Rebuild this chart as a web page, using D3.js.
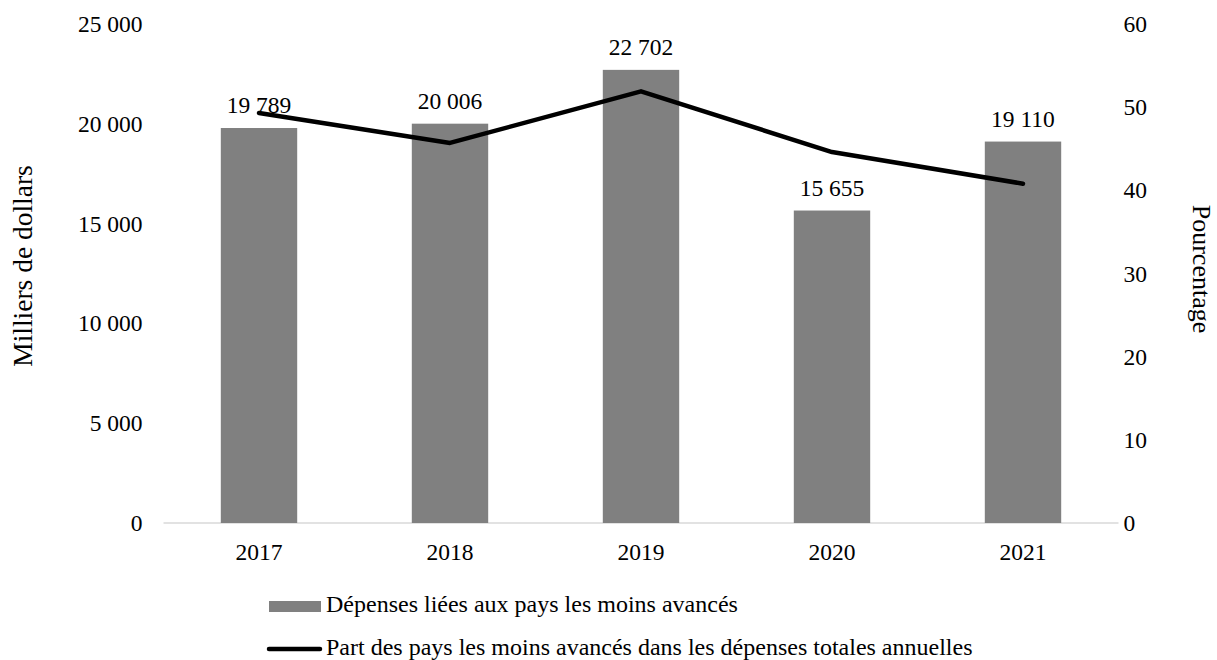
<!DOCTYPE html>
<html>
<head>
<meta charset="utf-8">
<script src="https://cdn.jsdelivr.net/npm/d3@7"></script>
<style>
  html, body { margin: 0; padding: 0; background: #fff; }
  svg text { font-family: "Liberation Serif", "Times New Roman", serif; fill: #000; }
</style>
</head>
<body>
<svg id="chart" width="1217" height="660"></svg>
<script>
// Years on the category axis
const years = ["2017", "2018", "2019", "2020", "2021"];
// Spending on least developed countries (thousands of dollars)
const depenses = [19789, 20006, 22702, 15655, 19110];
// Share of least developed countries in total annual spending (%)
const part = [49.3, 45.7, 51.9, 44.6, 40.8];
// Tick values for both value axes
const leftTicks = [0, 5000, 10000, 15000, 20000, 25000];
const rightTicks = [0, 10, 20, 30, 40, 50, 60];
// Legend entries
const legendLabels = [
  "Dépenses liées aux pays les moins avancés",
  "Part des pays les moins avancés dans les dépenses totales annuelles"
];

const svg = d3.select("#chart");
const margin = { left: 163.5, right: 1118.5, top: 24, bottom: 523 };
const fontSize = 23.5;

// French-style thousands separator (space)
const fmt = v => d3.format(",")(v).replace(/,/g, " ");

const x = d3.scaleBand()
  .domain(years)
  .range([margin.left, margin.right])
  .paddingInner(0.6)
  .paddingOuter(0.3);

const yLeft = d3.scaleLinear().domain([0, 25000]).range([margin.bottom, margin.top]);
const yRight = d3.scaleLinear().domain([0, 60]).range([margin.bottom, margin.top]);

// Baseline
svg.append("line")
  .attr("x1", margin.left).attr("x2", margin.right)
  .attr("y1", margin.bottom).attr("y2", margin.bottom)
  .attr("stroke", "#d9d9d9").attr("stroke-width", 1.5);

// Bars
svg.append("g").selectAll("rect")
  .data(depenses)
  .join("rect")
  .attr("x", (d, i) => x(years[i]))
  .attr("width", x.bandwidth())
  .attr("y", d => yLeft(d))
  .attr("height", d => yLeft(0) - yLeft(d))
  .attr("fill", "#808080");

// Bar value labels
svg.append("g").selectAll("text")
  .data(depenses)
  .join("text")
  .attr("x", (d, i) => x(years[i]) + x.bandwidth() / 2)
  .attr("y", d => yLeft(d) - 15)
  .attr("text-anchor", "middle")
  .attr("font-size", fontSize)
  .text(d => fmt(d));

// Share line
const line = d3.line()
  .x((d, i) => x(years[i]) + x.bandwidth() / 2)
  .y(d => yRight(d));

svg.append("path")
  .datum(part)
  .attr("d", line)
  .attr("fill", "none")
  .attr("stroke", "#000")
  .attr("stroke-width", 4.5)
  .attr("stroke-linejoin", "round")
  .attr("stroke-linecap", "round");

// Left axis
const leftAxis = svg.append("g")
  .attr("transform", `translate(${margin.left - 21},0)`)
  .call(d3.axisLeft(yLeft).tickValues(leftTicks).tickFormat(fmt).tickSize(0).tickPadding(0));
leftAxis.select(".domain").remove();
leftAxis.selectAll("text").attr("font-size", fontSize).attr("font-family", null).attr("fill", "#000");

// Right axis
const rightAxis = svg.append("g")
  .attr("transform", `translate(${margin.right + 5},0)`)
  .call(d3.axisRight(yRight).tickValues(rightTicks).tickSize(0).tickPadding(0));
rightAxis.select(".domain").remove();
rightAxis.selectAll("text").attr("font-size", fontSize).attr("font-family", null).attr("fill", "#000");

// Category axis
const bottomAxis = svg.append("g")
  .attr("transform", `translate(0,${margin.bottom})`)
  .call(d3.axisBottom(x).tickSize(0).tickPadding(20));
bottomAxis.select(".domain").remove();
bottomAxis.selectAll("text").attr("font-size", fontSize).attr("font-family", null).attr("fill", "#000");

// Axis titles
svg.append("text")
  .attr("transform", "translate(32,266) rotate(-90)")
  .attr("text-anchor", "middle")
  .attr("font-size", 27.5)
  .text("Milliers de dollars");

svg.append("text")
  .attr("transform", "translate(1193,269) rotate(90)")
  .attr("text-anchor", "middle")
  .attr("font-size", 26)
  .text("Pourcentage");

// Legend
const legendFont = 24;
const legend = svg.append("g");
legend.append("rect")
  .attr("x", 269).attr("y", 601).attr("width", 52).attr("height", 11)
  .attr("fill", "#808080");
legend.append("text")
  .attr("x", 326).attr("y", 612)
  .attr("font-size", legendFont)
  .text(legendLabels[0]);
legend.append("line")
  .attr("x1", 269).attr("x2", 320).attr("y1", 649).attr("y2", 649)
  .attr("stroke", "#000").attr("stroke-width", 4.5).attr("stroke-linecap", "round");
legend.append("text")
  .attr("x", 326).attr("y", 655)
  .attr("font-size", legendFont)
  .text(legendLabels[1]);
</script>
</body>
</html>
